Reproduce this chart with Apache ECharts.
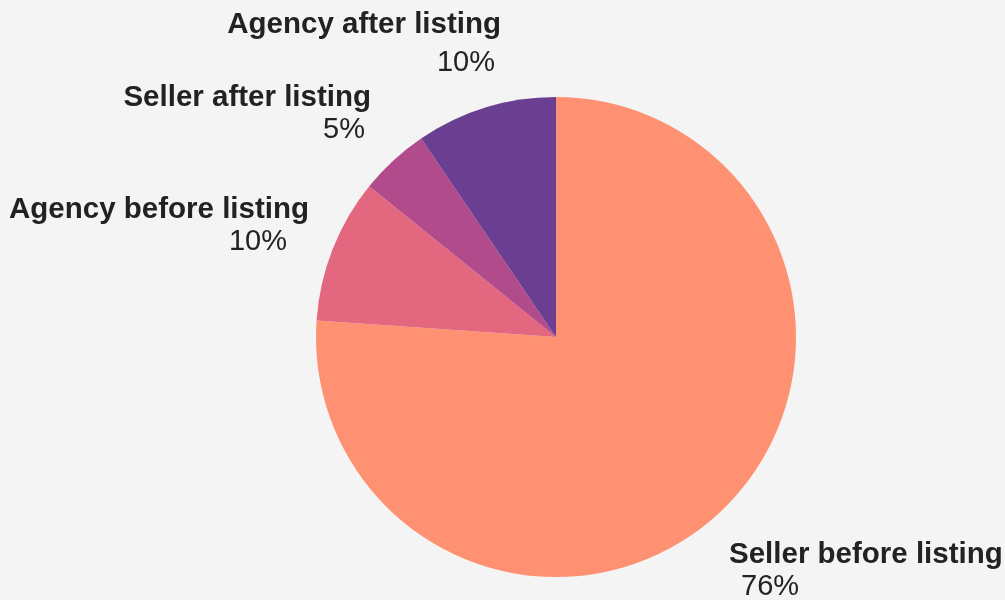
<!DOCTYPE html>
<html>
<head>
<meta charset="utf-8">
<script src="https://cdn.jsdelivr.net/npm/echarts@6/dist/echarts.min.js"></script>
<style>
  html, body { margin: 0; padding: 0; background: #f4f4f4; }
  #chart { width: 1005px; height: 600px; }
</style>
</head>
<body>
<div id="chart"></div>
<script>
// Data (clockwise from 12 o'clock)
const categories = ['Seller before listing', 'Agency before listing', 'Seller after listing', 'Agency after listing'];
const values = [76.1, 9.7, 4.7, 9.5];
const colors = ['#ff9173', '#e3687f', '#b24b8c', '#6a3e91'];

// Label placement (layout, not data)
const labelPlacement = [
  { x: 729, y: 539, align: 'left',  pad: [0, 0, 0, 12] },
  { x: 309, y: 194, align: 'right', pad: [0, 22, 0, 0] },
  { x: 371, y: 82,  align: 'right', pad: [0, 6, 0, 0] },
  { x: 501, y: 9,   align: 'right', pad: [12, 6, 0, 0] }
];

const total = values.reduce((a, b) => a + b, 0);
const font = "'Liberation Sans', Arial, sans-serif";

const seriesData = categories.map((name, i) => ({
  name: name,
  value: values[i],
  itemStyle: { color: colors[i] },
  label: {
    rich: {
      n: { fontFamily: font, fontSize: 29.5, fontWeight: 'bold', color: '#222', lineHeight: 31 },
      p: { fontFamily: font, fontSize: 29, fontWeight: 'normal', color: '#222', lineHeight: 33, padding: labelPlacement[i].pad }
    }
  }
}));

const chart = echarts.init(document.getElementById('chart'), null, { renderer: 'canvas' });
chart.setOption({
  backgroundColor: '#f4f4f4',
  animation: false,
  series: [{
    type: 'pie',
    center: [556, 337],
    radius: [0, 240],
    startAngle: 90,
    clockwise: true,
    avoidLabelOverlap: false,
    itemStyle: { borderWidth: 0 },
    label: {
      show: true,
      position: 'outside',
      formatter: (p) => '{n|' + p.name + '}\n{p|' + Math.round(p.value / total * 100) + '%}'
    },
    labelLine: { show: false },
    labelLayout: (params) => {
      const L = labelPlacement[params.dataIndex];
      return { x: L.x, y: L.y, align: L.align, verticalAlign: 'top' };
    },
    data: seriesData
  }]
});
</script>
</body>
</html>
